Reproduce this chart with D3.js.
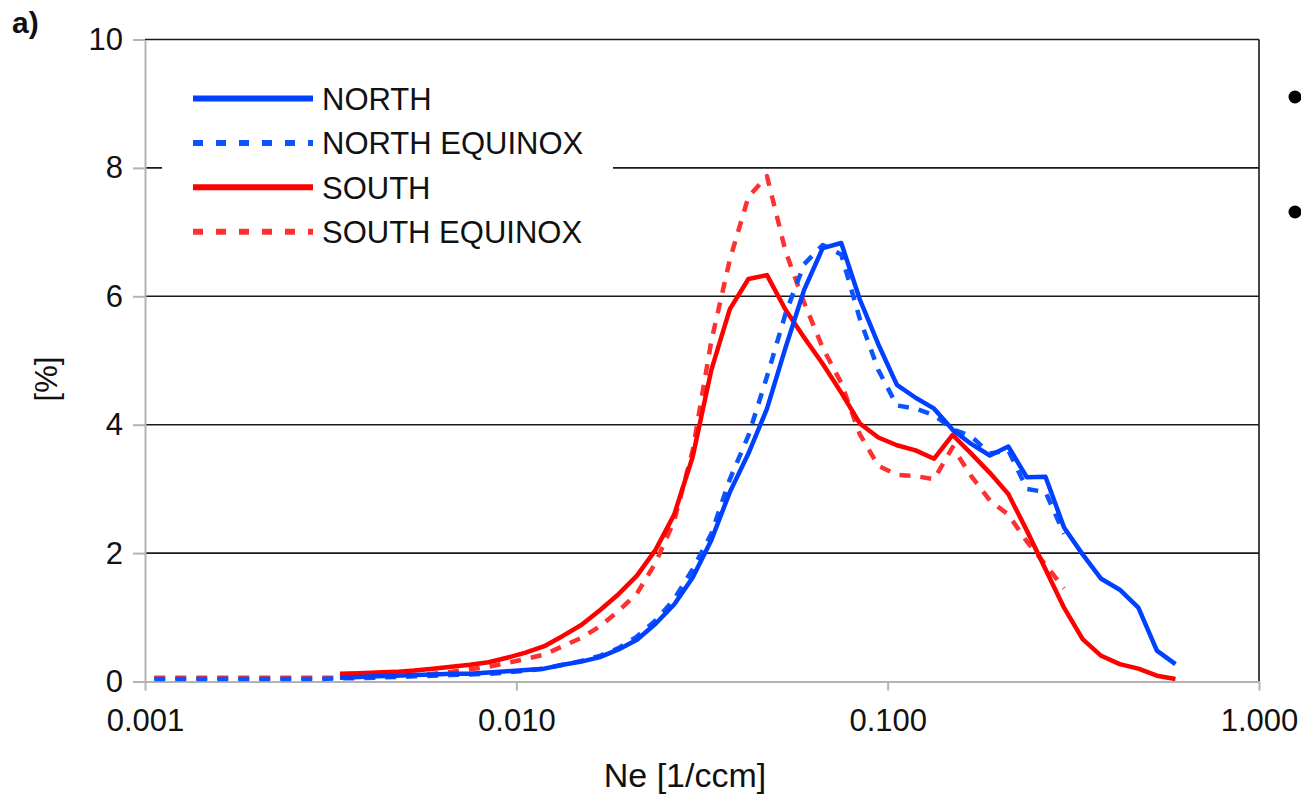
<!DOCTYPE html>
<html>
<head>
<meta charset="utf-8">
<script src="https://cdn.jsdelivr.net/npm/d3@7"></script>
<style>
	body { margin: 0; background: #fff; }
	svg text { font-family: "Liberation Sans", Arial, sans-serif; fill: #111; }
	.gridline { stroke: #1a1a1a; stroke-width: 1.6; }
	.axis path, .axis line { stroke: #b3b3b3; stroke-width: 2; }
	.axis text { font-size: 31px; }
</style>
</head>
<body>
<svg id="chart" width="1301" height="800"></svg>
<script>
// bin centres of Ne [1/ccm]
var ne = [
	0.001059, 0.001189, 0.001334, 0.001496, 0.001679, 0.001884, 0.002113, 0.002371, 0.002661, 0.002985,
	0.003350, 0.003758, 0.004217, 0.004732, 0.005309, 0.005957, 0.006683, 0.007499, 0.008414, 0.009441,
	0.01059, 0.01189, 0.01334, 0.01496, 0.01679, 0.01884, 0.02113, 0.02371, 0.02661, 0.02985,
	0.03350, 0.03758, 0.04217, 0.04732, 0.05309, 0.05957, 0.06683, 0.07499, 0.08414, 0.09441,
	0.1059, 0.1189, 0.1334, 0.1496, 0.1679, 0.1884, 0.2113, 0.2371, 0.2661, 0.2985,
	0.3350, 0.3758, 0.4217, 0.4732, 0.5309, 0.5957
];

var north = [
	null, null, null, null, null, null, null, null, null, null,
	0.06, 0.07, 0.08, 0.09, 0.10, 0.11, 0.12, 0.12, 0.14, 0.16,
	0.18, 0.20, 0.26, 0.31, 0.38, 0.50, 0.65, 0.90, 1.20, 1.62,
	2.20, 2.95, 3.55, 4.25, 5.20, 6.10, 6.75, 6.83, 5.95, 5.25,
	4.62, 4.42, 4.25, 3.92, 3.70, 3.52, 3.66, 3.18, 3.19, 2.40,
	1.98, 1.60, 1.43, 1.15, 0.48, 0.27
];

var northEquinox = [
	0.04, 0.04, 0.04, 0.04, 0.04, 0.04, 0.04, 0.04, 0.04, 0.04,
	0.05, 0.05, 0.06, 0.07, 0.08, 0.09, 0.10, 0.11, 0.12, 0.14,
	0.17, 0.20, 0.26, 0.32, 0.40, 0.52, 0.70, 0.95, 1.28, 1.75,
	2.30, 3.15, 3.83, 4.75, 5.73, 6.50, 6.80, 6.65, 5.65, 4.85,
	4.30, 4.25, 4.15, 3.93, 3.82, 3.55, 3.60, 3.00, 2.95, 2.30
];

var south = [
	null, null, null, null, null, null, null, null, null, null,
	0.12, 0.13, 0.14, 0.15, 0.17, 0.20, 0.23, 0.26, 0.30, 0.37,
	0.45, 0.55, 0.71, 0.88, 1.11, 1.36, 1.65, 2.05, 2.60, 3.50,
	4.85, 5.80, 6.27, 6.33, 5.79, 5.36, 4.95, 4.50, 4.02, 3.80,
	3.68, 3.60, 3.47, 3.84, 3.55, 3.25, 2.92, 2.35, 1.75, 1.15,
	0.66, 0.40, 0.27, 0.20, 0.09, 0.04
];

var southEquinox = [
	0.06, 0.06, 0.06, 0.06, 0.06, 0.06, 0.06, 0.06, 0.06, 0.06,
	0.06, 0.07, 0.08, 0.09, 0.10, 0.12, 0.15, 0.19, 0.23, 0.29,
	0.35, 0.42, 0.55, 0.68, 0.86, 1.10, 1.37, 1.85, 2.50, 3.60,
	5.30, 6.57, 7.55, 7.87, 6.70, 5.90, 5.20, 4.65, 3.85, 3.36,
	3.22, 3.20, 3.15, 3.65, 3.20, 2.82, 2.60, 2.18, 1.82, 1.45
];

var xTicks = [0.001, 0.01, 0.1, 1];
var yTicks = [0, 2, 4, 6, 8, 10];

var seriesNames = ["NORTH", "NORTH EQUINOX", "SOUTH", "SOUTH EQUINOX"];
var seriesValues = [north, northEquinox, south, southEquinox];
var seriesColors = ["#0040ff", "#0a55ff", "#ff0000", "#ff3030"];
var seriesDashed = [false, true, false, true];

var chart = {
	init : function ()
	{
		this.svg = d3.select("svg#chart");
		this.left = 145;
		this.right = 1259;
		this.top = 39.5;
		this.bottom = 681.5;

		this.x = d3.scaleLog()
		.domain([0.001, 1])
		.range([this.left, this.right]);

		this.y = d3.scaleLinear()
		.domain([0, 10])
		.range([this.bottom, this.top]);

		this.renderGrid();
		this.renderAxes();
		this.renderLines();
		this.renderLegend();
		this.renderExtras();
	},

	renderGrid : function ()
	{
		var g = this.svg.append("g").classed("grid", true);
		var y = this.y;

		g.selectAll("line.gridline")
		.data(yTicks.filter(function (d) { return d > 0; }))
		.enter().append("line")
		.classed("gridline", true)
		.attr("x1", this.left)
		.attr("x2", this.right)
		.attr("y1", function (d) { return y(d); })
		.attr("y2", function (d) { return y(d); });

		// right frame edge
		g.append("line")
		.classed("gridline", true)
		.attr("x1", this.right)
		.attr("x2", this.right)
		.attr("y1", this.top)
		.attr("y2", this.bottom);
	},

	renderAxes : function ()
	{
		var yAxis = d3.axisLeft(this.y)
		.tickValues(yTicks)
		.tickSize(12)
		.tickSizeOuter(0)
		.tickPadding(10);

		this.svg.append("g")
		.classed("axis", true)
		.attr("transform", "translate(" + this.left + ",0)")
		.call(yAxis);

		var xAxis = d3.axisBottom(this.x)
		.tickValues(xTicks)
		.tickFormat(d3.format(".3f"))
		.tickSize(9)
		.tickSizeOuter(0)
		.tickPadding(18);

		this.svg.append("g")
		.classed("axis", true)
		.attr("transform", "translate(0," + this.bottom + ")")
		.call(xAxis);

		this.svg.selectAll(".axis text")
		.attr("font-family", null);

		// axis titles
		this.svg.append("text")
		.attr("x", 685)
		.attr("y", 787)
		.attr("text-anchor", "middle")
		.style("font-size", "34px")
		.text("Ne [1/ccm]");

		this.svg.append("text")
		.attr("transform", "translate(57,379) rotate(-90)")
		.attr("text-anchor", "middle")
		.style("font-size", "31px")
		.text("[%]");
	},

	renderLines : function ()
	{
		var x = this.x, y = this.y;
		var g = this.svg.append("g").classed("lines", true);

		var line = d3.line()
		.defined(function (d) { return d.v !== null; })
		.x(function (d) { return x(d.ne); })
		.y(function (d) { return y(d.v); });

		// south drawn first, north on top
		[3, 2, 1, 0].forEach(function (i) {
			var vals = seriesValues[i];
			var pts = ne.map(function (n, j) {
				return { ne : n, v : (j < vals.length ? vals[j] : null) };
			});

			g.append("path")
			.datum(pts)
			.attr("d", line)
			.attr("fill", "none")
			.attr("stroke", seriesColors[i])
			.attr("stroke-width", 4.5)
			.attr("stroke-linejoin", "round")
			.attr("stroke-dasharray", seriesDashed[i] ? "11,10" : null);
		});
	},

	renderLegend : function ()
	{
		var lg = this.svg.append("g").classed("legend", true);

		lg.append("rect")
		.attr("x", 162)
		.attr("y", 64)
		.attr("width", 451)
		.attr("height", 192)
		.attr("fill", "#fff");

		var rows = lg.selectAll("g.row")
		.data(seriesNames)
		.enter().append("g")
		.classed("row", true)
		.attr("transform", function (d, i) {
			return "translate(0," + (98.5 + i * 44.4) + ")";
		});

		rows.append("line")
		.attr("x1", 193)
		.attr("x2", 313)
		.attr("y1", 0)
		.attr("y2", 0)
		.attr("stroke", function (d, i) { return seriesColors[i]; })
		.attr("stroke-width", 6)
		.attr("stroke-dasharray", function (d, i) { return seriesDashed[i] ? "10,13" : null; });

		rows.append("text")
		.attr("x", 322)
		.attr("y", 11.5)
		.style("font-size", "31px")
		.text(function (d) { return d; });
	},

	renderExtras : function ()
	{
		// panel label
		this.svg.append("text")
		.attr("x", 12)
		.attr("y", 33)
		.style("font-size", "30px")
		.style("font-weight", "bold")
		.text("a)");

		// bullet points cut by the right edge
		this.svg.selectAll("circle.bullet")
		.data([97, 212])
		.enter().append("circle")
		.classed("bullet", true)
		.attr("cx", 1295)
		.attr("cy", function (d) { return d; })
		.attr("r", 6.5)
		.attr("fill", "#000");
	}
};

chart.init();
</script>
</body>
</html>
